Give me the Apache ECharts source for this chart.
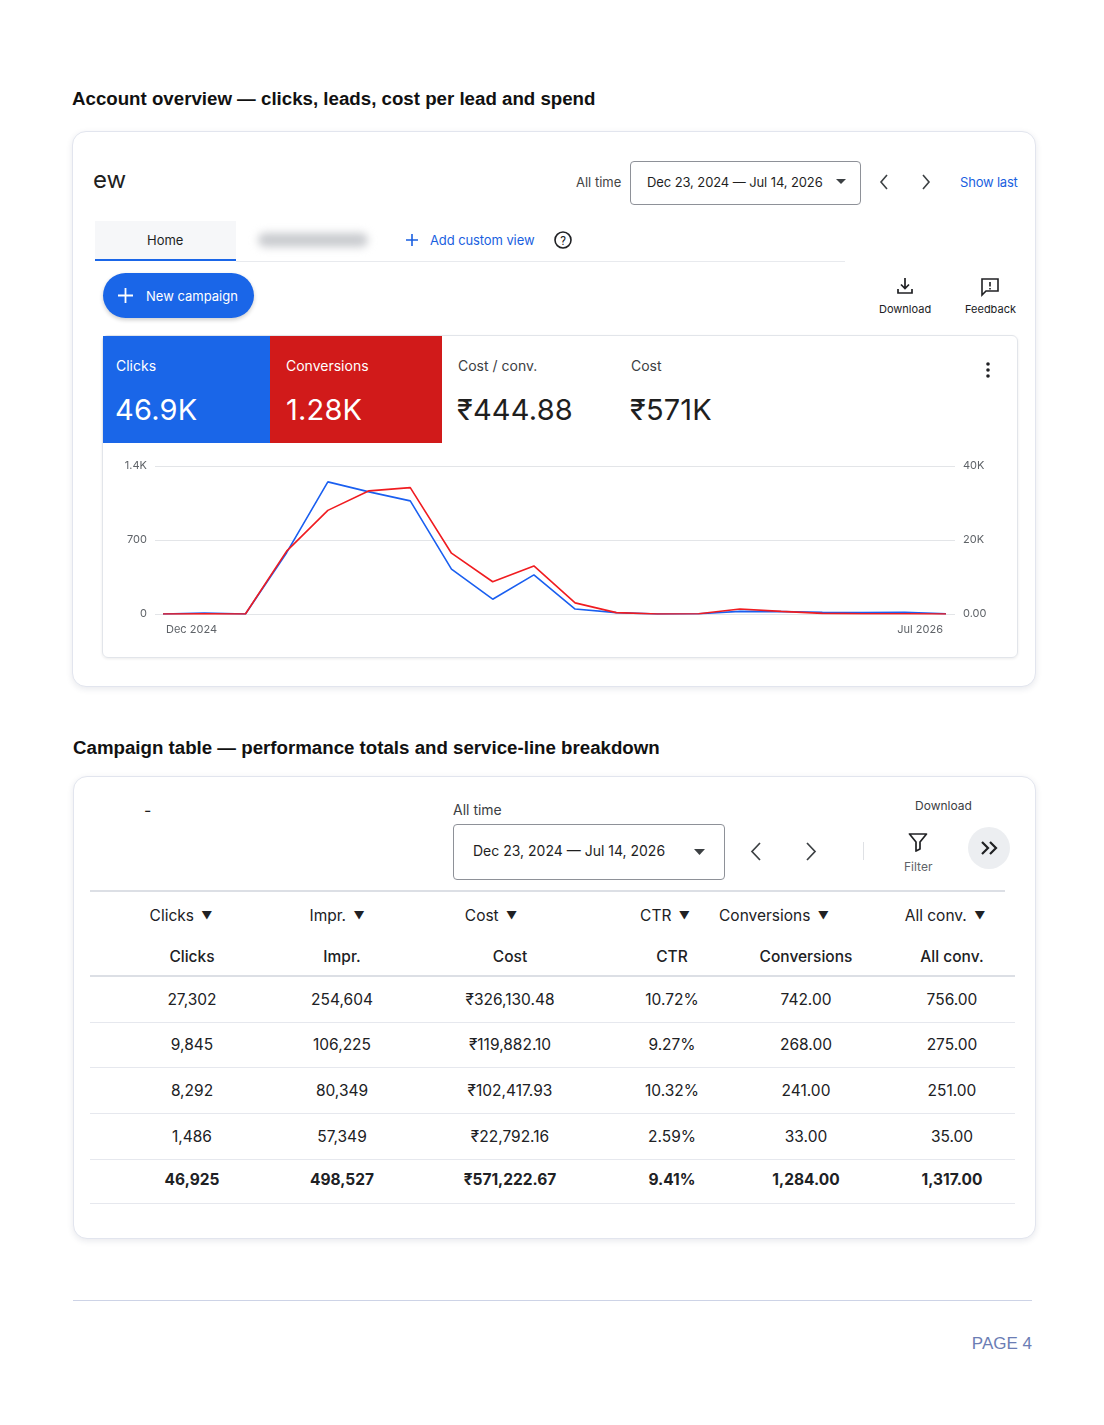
<!DOCTYPE html>
<html lang="en">
<head>
<meta charset="UTF-8">
<title>Account overview</title>
<script src="https://cdn.jsdelivr.net/npm/echarts@6/dist/echarts.min.js"></script>
<style>
  html, body { margin: 0; background: #fff; }
  body { width: 1104px; height: 1425px; position: relative; font-family: Inter, Roboto, "Noto Sans", sans-serif; color: #1f1f1f; }
  .abs { position: absolute; }
  .h2 { font-family: "Liberation Sans", Arial, sans-serif; font-weight: bold; font-size: 18.7px; color: #111; white-space: nowrap; }
  .card { border: 1px solid #e2e5ee; border-radius: 14px; box-shadow: 0 2px 6px rgba(30,40,80,0.10); background: #fff; }
  .t13 { font-size: 13px; white-space: nowrap; }
  .blue { color: #1a5fe0; }
  .tile { color: #fff; }
  .tile .lbl { font-size: 14px; position: absolute; left: 13px; top: 21px; }
  .tile .val { font-size: 29px; position: absolute; left: 12px; top: 56px; letter-spacing: 0.2px; }
  .kpi .lbl { font-size: 14px; position: absolute; top: 21px; color: #3c4043; }
  .kpi .val { font-size: 29px; position: absolute; top: 56px; color: #1f1f1f; letter-spacing: 0.2px; }
  .cell { position: absolute; width: 200px; text-align: center; font-size: 15.5px; white-space: nowrap; color: #202124; }
  .rule { position: absolute; height: 1px; background: #e6e8ee; }
</style>
</head>
<body>
<div class="abs h2" style="left:72px;top:88px;">Account overview — clicks, leads, cost per lead and spend</div>

<!-- card 1 -->
<div class="abs card" style="left:72px;top:131px;width:962px;height:554px;"></div>
<div class="abs" style="left:93px;top:165px;font-size:24px;">ew</div>
<div class="abs t13" style="left:576px;top:174px;color:#444;">All time</div>
<div class="abs" style="left:630px;top:161px;width:229px;height:42px;border:1px solid #8e9198;border-radius:4px;"></div>
<div class="abs t13" style="left:647px;top:174px;letter-spacing:-0.1px;">Dec 23, 2024 — Jul 14, 2026</div>
<svg class="abs" style="left:836px;top:179px" width="10" height="6"><path d="M0 0 L10 0 L5 5 Z" fill="#3c4043"/></svg>
<svg class="abs" style="left:878px;top:174px" width="12" height="16"><path d="M9 1 L3 8 L9 15" stroke="#3c4043" stroke-width="1.6" fill="none"/></svg>
<svg class="abs" style="left:920px;top:174px" width="12" height="16"><path d="M3 1 L9 8 L3 15" stroke="#3c4043" stroke-width="1.6" fill="none"/></svg>
<div class="abs t13 blue" style="left:960px;top:174px;letter-spacing:-0.2px;">Show last</div>

<div class="abs" style="left:95px;top:221px;width:141px;height:39px;background:#f6f7f9;"></div>
<div class="abs" style="left:95px;top:259px;width:141px;height:2px;background:#1a66e8;"></div>
<div class="abs" style="left:236px;top:261px;width:609px;height:1px;background:#e8eaee;"></div>
<div class="abs t13" style="left:147px;top:232px;">Home</div>
<div class="abs" style="left:258px;top:233px;width:110px;height:14px;border-radius:7px;background:#c9cbcf;filter:blur(4px);"></div>
<svg class="abs" style="left:405px;top:233px" width="14" height="14"><path d="M7 1 V13 M1 7 H13" stroke="#1a5fe0" stroke-width="1.6"/></svg>
<div class="abs t13 blue" style="left:430px;top:232px;letter-spacing:-0.1px;">Add custom view</div>
<svg class="abs" style="left:553px;top:230px" width="20" height="20"><circle cx="10" cy="10" r="8" stroke="#202124" stroke-width="1.6" fill="none"/><text x="10" y="14.5" font-size="12" text-anchor="middle" font-family="Roboto" fill="#202124">?</text></svg>

<div class="abs" style="left:103px;top:273px;width:151px;height:45px;border-radius:23px;background:#1a66e8;box-shadow:0 2px 4px rgba(0,0,0,0.2);"></div>
<svg class="abs" style="left:117px;top:287px" width="17" height="17"><path d="M8.5 1 V16 M1 8.5 H16" stroke="#fff" stroke-width="1.8"/></svg>
<div class="abs t13" style="left:146px;top:288px;color:#fff;">New campaign</div>

<svg class="abs" style="left:896px;top:277px" width="18" height="18"><path d="M9 1 V11 M5 7.5 L9 11.5 L13 7.5 M2 12 V16 H16 V12" stroke="#202124" stroke-width="1.7" fill="none"/></svg>
<div class="abs" style="left:879px;top:302px;font-size:11px;color:#202124;">Download</div>
<svg class="abs" style="left:980px;top:277px" width="20" height="20"><path d="M2 2 H18 V14 H6 L2 18 Z" stroke="#202124" stroke-width="1.6" fill="none"/><path d="M10 5 V9.5 M10 11 V12.5" stroke="#202124" stroke-width="1.6"/></svg>
<div class="abs" style="left:965px;top:302px;font-size:11px;color:#202124;">Feedback</div>

<!-- inner chart card -->
<div class="abs" style="left:102px;top:335px;width:914px;height:321px;border:1px solid #e2e5ea;border-radius:6px;box-shadow:0 1px 3px rgba(0,0,0,0.08);"></div>
<div class="abs tile" style="left:103px;top:336px;width:167px;height:107px;background:#1a66e8;">
  <div class="lbl" id="k0l"></div><div class="val" id="k0v"></div>
</div>
<div class="abs tile" style="left:270px;top:336px;width:172px;height:107px;background:#d11a1a;">
  <div class="lbl" style="left:16px" id="k1l"></div><div class="val" style="left:16px" id="k1v"></div>
</div>
<div class="abs kpi" style="left:442px;top:336px;width:180px;height:107px;">
  <div class="lbl" style="left:16px" id="k2l"></div><div class="val" style="left:15px" id="k2v"></div>
</div>
<div class="abs kpi" style="left:615px;top:336px;width:180px;height:107px;">
  <div class="lbl" style="left:16px" id="k3l"></div><div class="val" style="left:15px" id="k3v"></div>
</div>
<svg class="abs" style="left:984px;top:361px" width="8" height="18"><circle cx="4" cy="3" r="1.8" fill="#202124"/><circle cx="4" cy="9" r="1.8" fill="#202124"/><circle cx="4" cy="15" r="1.8" fill="#202124"/></svg>
<div id="main" class="abs" style="left:103px;top:444px;width:913px;height:211px;"></div>

<!-- card 2 -->
<div class="abs h2" style="left:73px;top:737px;">Campaign table — performance totals and service-line breakdown</div>
<div class="abs card" style="left:73px;top:776px;width:961px;height:461px;"></div>
<div class="abs" style="left:144px;top:800px;font-size:16px;">-</div>
<div class="abs" style="left:453px;top:801px;font-size:14px;color:#3c4043;">All time</div>
<div class="abs" style="left:453px;top:824px;width:270px;height:54px;border:1px solid #8e9198;border-radius:4px;"></div>
<div class="abs" style="left:473px;top:842px;font-size:14px;white-space:nowrap;">Dec 23, 2024 — Jul 14, 2026</div>
<svg class="abs" style="left:694px;top:849px" width="11" height="6"><path d="M0 0 L11 0 L5.5 6 Z" fill="#3c4043"/></svg>
<svg class="abs" style="left:749px;top:842px" width="14" height="19"><path d="M11 1 L3 9.5 L11 18" stroke="#3c4043" stroke-width="1.7" fill="none"/></svg>
<svg class="abs" style="left:804px;top:842px" width="14" height="19"><path d="M3 1 L11 9.5 L3 18" stroke="#3c4043" stroke-width="1.7" fill="none"/></svg>
<div class="abs" style="left:863px;top:842px;width:1px;height:18px;background:#dfe1e5;"></div>
<div class="abs" style="left:915px;top:798px;font-size:12px;color:#3c4043;">Download</div>
<svg class="abs" style="left:908px;top:832px" width="20" height="20"><path d="M1.5 2 H18.5 L12 10 V17 L8 19 V10 Z" stroke="#202124" stroke-width="1.7" fill="none" stroke-linejoin="round"/></svg>
<div class="abs" style="left:904px;top:859px;font-size:12px;color:#5f6368;">Filter</div>
<div class="abs" style="left:968px;top:827px;width:42px;height:42px;border-radius:21px;background:#eceef1;"></div>
<svg class="abs" style="left:980px;top:840px" width="20" height="16"><path d="M2 2 L8 8 L2 14 M10 2 L16 8 L10 14" stroke="#202124" stroke-width="2.2" fill="none"/></svg>
<div class="abs" style="left:90px;top:890px;width:915px;height:2px;background:#dcdfe5;"></div>
<div id="hdr"></div>
<div class="abs" style="left:90px;top:975px;width:925px;height:2px;background:#dcdfe5;"></div>
<div id="rows"></div>

<!-- footer -->
<div class="abs" style="left:73px;top:1300px;width:959px;height:1px;background:#cdd3e6;"></div>
<div class="abs" style="left:932px;top:1334px;width:100px;text-align:right;font-family:'Liberation Sans',Arial,sans-serif;font-size:17px;color:#6b7db4;">PAGE 4</div>

<script>
// chart data (monthly, Dec 2024 .. Jul 2026)
const months = ['Dec 2024','Jan 2025','Feb 2025','Mar 2025','Apr 2025','May 2025','Jun 2025','Jul 2025','Aug 2025','Sep 2025','Oct 2025','Nov 2025','Dec 2025','Jan 2026','Feb 2026','Mar 2026','Apr 2026','May 2026','Jun 2026','Jul 2026']
const clicksLine = [0, 10, 0, 580, 1250, 1155, 1070, 425, 140, 370, 47, 13, 0, 3, 25, 22, 16, 13, 16, 3]
const convLine = [0, 2, 0, 595, 980, 1165, 1195, 575, 305, 455, 105, 13, 0, 3, 47, 25, 6, 3, 3, 0]

// KPI tiles
const kpiLabels = ['Clicks', 'Conversions', 'Cost / conv.', 'Cost']
const kpiValues = ['46.9K', '1.28K', '₹444.88', '₹571K']

// table
const colHeaders = ['Clicks', 'Impr.', 'Cost', 'CTR', 'Conversions', 'All conv.']
const tableRows = [
  ['27,302', '254,604', '₹326,130.48', '10.72%', '742.00', '756.00'],
  ['9,845', '106,225', '₹119,882.10', '9.27%', '268.00', '275.00'],
  ['8,292', '80,349', '₹102,417.93', '10.32%', '241.00', '251.00'],
  ['1,486', '57,349', '₹22,792.16', '2.59%', '33.00', '35.00']
]
const totalRow = ['46,925', '498,527', '₹571,222.67', '9.41%', '1,284.00', '1,317.00']

kpiLabels.forEach((l, i) => {
  document.getElementById('k' + i + 'l').textContent = l
  document.getElementById('k' + i + 'v').textContent = kpiValues[i]
})

// table layout
const colCenters = [192, 342, 510, 672, 806, 952]
const sortCenters = [181, 337, 491, 665, 774, 945]
let html = ''
colHeaders.forEach((h, i) => {
  html += `<div class="cell" style="left:${sortCenters[i] - 100}px;top:906px;">${h} <span style="font-size:11px;position:relative;top:-2px;margin-left:3px">▼</span></div>`
  html += `<div class="cell" style="left:${colCenters[i] - 100}px;top:947px;font-weight:500;">${h}</div>`
})
document.getElementById('hdr').innerHTML = html
html = ''
const rowTops = [990, 1035, 1081, 1127]
tableRows.forEach((r, ri) => {
  r.forEach((v, ci) => {
    html += `<div class="cell" style="left:${colCenters[ci] - 100}px;top:${rowTops[ri]}px;">${v}</div>`
  })
  html += `<div class="rule" style="left:90px;width:925px;top:${rowTops[ri] + 32}px;"></div>`
})
totalRow.forEach((v, ci) => {
  html += `<div class="cell" style="left:${colCenters[ci] - 100}px;top:1170px;font-weight:700;">${v}</div>`
})
html += `<div class="rule" style="left:90px;width:925px;top:1203px;"></div>`
document.getElementById('rows').innerHTML = html

// chart
const chart = echarts.init(document.getElementById('main'))
const lbl = { color: '#5f6368', fontSize: 11, fontFamily: 'Inter, Roboto, sans-serif' }
chart.setOption({
  animation: false,
  grid: [
    { left: 52, right: 61, top: 22, bottom: 41 },
    { left: 60, right: 70, top: 22, bottom: 41 }
  ],
  xAxis: [
    { gridIndex: 0, type: 'category', data: months, show: false, boundaryGap: false },
    {
      gridIndex: 1, type: 'category', data: months, boundaryGap: false,
      axisLine: { show: false }, axisTick: { show: false },
      axisLabel: Object.assign({}, lbl, {
        margin: 10,
        interval: (i) => i === 0 || i === months.length - 1,
        alignMinLabel: 'left', alignMaxLabel: 'right',
        padding: [0, 3, 0, 3]
      })
    }
  ],
  yAxis: [
    {
      gridIndex: 0, type: 'value', min: 0, max: 1400, interval: 700,
      axisLine: { show: false }, axisTick: { show: false },
      splitLine: { lineStyle: { color: '#e3e5e8' } },
      axisLabel: Object.assign({}, lbl, { margin: 8, formatter: v => v >= 1000 ? (v / 1000) + 'K' : String(v) })
    },
    {
      gridIndex: 0, type: 'value', min: 0, max: 40000, interval: 20000, position: 'right',
      axisLine: { show: false }, axisTick: { show: false }, splitLine: { show: false },
      axisLabel: Object.assign({}, lbl, { margin: 8, formatter: v => v === 0 ? '0.00' : (v / 1000) + 'K' })
    },
    { gridIndex: 1, type: 'value', min: 0, max: 1400, show: false, splitLine: { show: false } }
  ],
  series: [
    {
      name: 'Clicks', type: 'line', xAxisIndex: 1, yAxisIndex: 2, data: clicksLine,
      symbol: 'none', lineStyle: { color: '#1a5ff0', width: 1.6 }
    },
    {
      name: 'Conversions', type: 'line', xAxisIndex: 1, yAxisIndex: 2, data: convLine,
      symbol: 'none', lineStyle: { color: '#f01c20', width: 1.6 }
    }
  ]
})
</script>
</body>
</html>
